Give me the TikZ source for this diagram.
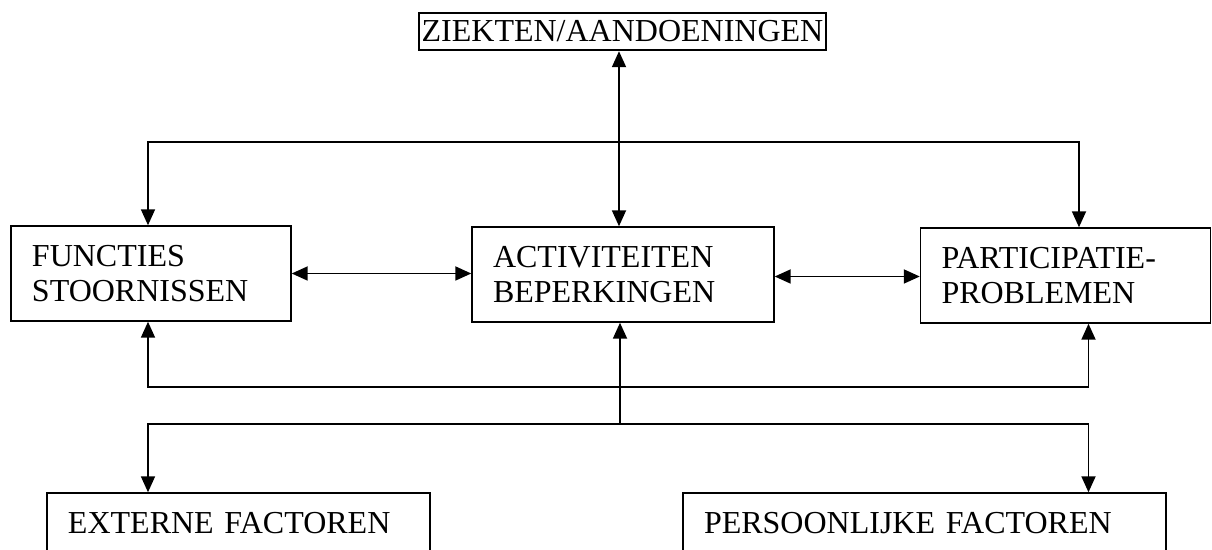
\documentclass[tikz,border=0pt]{standalone}
\usepackage{fontspec}
\setmainfont{Liberation Serif}
\usepackage{tikz}
\usetikzlibrary{arrows.meta}
\usetikzlibrary{calc}
\newcommand{\boxfont}{\fontsize{16}{17.5}\selectfont}

\begin{document}
\begin{tikzpicture}[x=0.5pt, y=0.5pt,
    box/.style={draw, line width=0.7pt, inner xsep=10.5pt, inner ysep=0pt, align=left, font=\boxfont},
    link/.style={line width=0.9pt, {Triangle[length=8pt,width=7pt]}-{Triangle[length=8pt,width=7pt]}},
    uplink/.style={line width=0.9pt, -{Triangle[length=8pt,width=7pt]}}]

    \useasboundingbox (0,0) rectangle (1212,-550);

    \node[draw, line width=1.2pt, inner sep=0pt, minimum width=203.5pt, minimum height=18.5pt, font=\boxfont] (ziekten) at (622.5,-31.5) {ZIEKTEN/AANDOENINGEN};

    \node[box, text width=119pt, minimum height=47.5pt] (functies) at (151,-273.5) {FUNCTIES\\STOORNISSEN};
    \node[box, text width=130pt, minimum height=47.5pt] (activiteiten) at (623,-274.5) {ACTIVITEITEN\\BEPERKINGEN};
    \node[box, text width=124pt, minimum height=47.5pt] (participatie) at (1065.5,-275.5) {PARTICIPATIE-\\PROBLEMEN};

    \node[box, text width=170.5pt, minimum height=30pt] (externe) at (238.5,-523) {EXTERNE FACTOREN};
    \node[box, text width=220.5pt, minimum height=30pt] (persoonlijk) at (924.5,-523) {PERSOONLIJKE FACTOREN};

    % junctions of the connecting lines
    \coordinate (top) at (619,-142);
    \coordinate (feedback) at (620,-387);
    \coordinate (split) at (620,-424);
    \coordinate (colL) at (148,0);
    \coordinate (colR) at (1079,0);
    \coordinate (colRR) at (1088.5,0);

    \draw[link] (ziekten.south -| top) -- (top |- activiteiten.north);
    \draw[link] (functies.north -| colL) |- (top) -| (participatie.north -| colR);

    \draw[link] (functies.east) -- (functies.east -| activiteiten.west);
    \draw[link] ($(activiteiten.east)+(0,-2)$) -- ($(activiteiten.east -| participatie.west)+(0,-2)$);

    \draw[link] (functies.south -| colL) |- (feedback) -| (participatie.south -| colRR);
    \draw[uplink] (split) -- (split |- activiteiten.south);
    \draw[link] (externe.north -| colL) |- (split) -| (persoonlijk.north -| colRR);

\end{tikzpicture}
\end{document}
